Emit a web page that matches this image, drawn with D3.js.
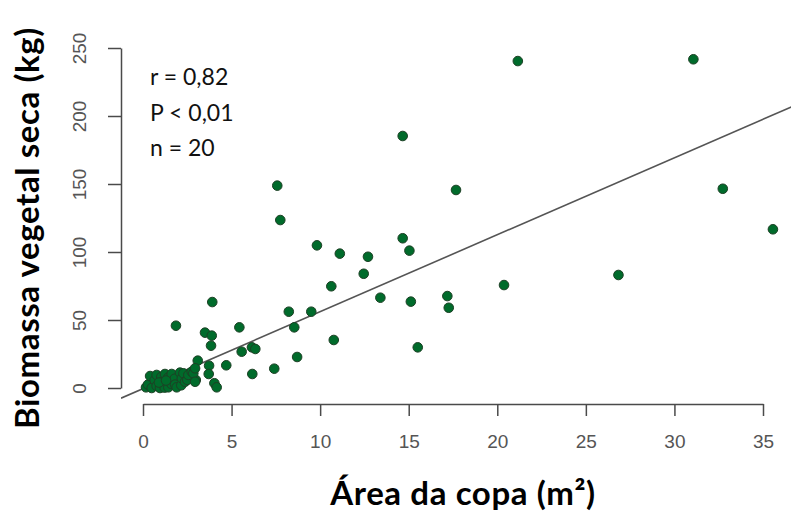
<!DOCTYPE html>
<html>
<head>
<meta charset="utf-8">
<script src="https://cdn.jsdelivr.net/npm/d3@7"></script>
<style>
  html, body { margin: 0; padding: 0; background: #fff; }
  svg { display: block; }
</style>
</head>
<body>
<svg id="chart" width="791" height="518"></svg>
<script>
// Crown area (m²) of each plant
const areaCopa = [
  21.16, 31.07, 14.66, 17.67, 32.73, 35.56, 14.66, 15.04, 26.84, 20.38,
  15.12, 17.18, 17.26, 15.51, 7.58, 7.75, 9.82, 11.11, 12.70, 12.46,
  10.63, 13.40, 3.91, 8.23, 9.50, 8.54, 5.44, 3.50, 3.88, 3.84,
  10.77, 5.57, 6.15, 6.34, 8.70, 7.41, 4.70, 3.09, 3.73, 6.17,
  3.71, 4.03, 4.16, 2.98, 1.86,
  0.17, 0.28, 0.40, 0.49, 0.66, 0.77, 0.77, 0.96, 1.03, 1.06,
  1.22, 1.24, 1.41, 1.43, 1.60, 1.62, 1.79, 1.81, 1.90, 2.09,
  2.16, 2.19, 2.28, 2.37, 2.50, 2.56, 2.75, 2.84, 2.94, 2.94,
  0.90, 1.30
];
// Dry plant biomass (kg) of each plant
const biomassa = [
  240.4, 241.7, 185.3, 145.6, 146.5, 116.7, 110.1, 101.0, 83.1, 75.7,
  63.5, 67.6, 59.0, 29.9, 148.8, 123.5, 104.9, 98.8, 96.5, 84.0,
  74.8, 66.4, 63.2, 56.1, 56.1, 44.6, 44.6, 40.7, 38.5, 31.1,
  35.3, 26.7, 29.9, 28.7, 22.8, 14.2, 16.7, 20.1, 16.4, 10.3,
  10.3, 3.5, 0.5, 5.9, 45.8,
  0.5, 2.5, 8.8, 0.0, 5.7, 1.5, 9.6, 0.0, 8.1, 4.5,
  0.3, 10.3, 7.5, 0.5, 3.0, 10.3, 6.8, 2.5, 0.5, 11.3,
  2.0, 7.1, 10.8, 4.6, 6.0, 9.6, 12.0, 10.8, 14.5, 4.6,
  4.0, 5.5
];

// Fitted line: biomassa = intercept + slope * area
const fitIntercept = -0.5;
const fitSlope = 5.66;

const xTicks = [0, 5, 10, 15, 20, 25, 30, 35];
const yTicks = [0, 50, 100, 150, 200, 250];

const statLines = ["r = 0,82", "P < 0,01", "n = 20"];
const xTitle = "Área da copa (m²)";
const yTitle = "Biomassa vegetal seca (kg)";

const svg = d3.select("#chart");

const x = d3.scaleLinear().domain([0, 35]).range([143, 763]);
const y = d3.scaleLinear().domain([0, 250]).range([388, 48]);

// plotting region (axes sit on its left and bottom edges)
const plotLeft = 121, plotRight = 800, plotTop = 46, plotBottom = 404;

svg.append("defs").append("clipPath").attr("id", "plotClip")
  .append("rect")
  .attr("x", plotLeft).attr("y", plotTop)
  .attr("width", plotRight - plotLeft).attr("height", plotBottom - plotTop);

const axisColor = "#4a4a4a";
const tickFont = "'Liberation Sans', Arial, sans-serif";
const titleFont = "Lato, 'Open Sans', sans-serif";

// y axis
const yAxis = svg.append("g")
  .attr("transform", `translate(${plotLeft},0)`)
  .call(d3.axisLeft(y).tickValues(yTicks).tickSize(13).tickSizeOuter(0).tickFormat(d3.format("d")));
yAxis.select(".domain").attr("stroke", axisColor).attr("stroke-width", 1.5);
yAxis.selectAll(".tick line").attr("stroke", axisColor).attr("stroke-width", 1.5);
yAxis.selectAll(".tick text")
  .attr("transform", "rotate(-90)")
  .attr("x", 0).attr("y", -35).attr("dy", 0)
  .attr("text-anchor", "middle")
  .attr("fill", "#555")
  .style("font-family", tickFont).style("font-size", "19px");

// x axis
const xAxis = svg.append("g")
  .attr("transform", `translate(0,${plotBottom})`)
  .call(d3.axisBottom(x).tickValues(xTicks).tickSize(12).tickSizeOuter(0).tickFormat(d3.format("d")));
xAxis.select(".domain").attr("stroke", axisColor).attr("stroke-width", 1.5);
xAxis.selectAll(".tick line").attr("stroke", axisColor).attr("stroke-width", 1.5);
xAxis.selectAll(".tick text")
  .attr("y", 44).attr("dy", 0)
  .attr("fill", "#555")
  .style("font-family", tickFont).style("font-size", "19px");

// regression line across the plotting region
const xMin = x.invert(plotLeft), xMax = x.invert(plotRight);
svg.append("line")
  .attr("clip-path", "url(#plotClip)")
  .attr("x1", x(xMin)).attr("y1", y(fitIntercept + fitSlope * xMin))
  .attr("x2", x(xMax)).attr("y2", y(fitIntercept + fitSlope * xMax))
  .attr("stroke", "#555").attr("stroke-width", 1.6);

// points
const pts = areaCopa.map((a, i) => ({ a, b: biomassa[i] }));
svg.append("g").selectAll("circle")
  .data(pts)
  .join("circle")
  .attr("cx", d => x(d.a))
  .attr("cy", d => y(d.b))
  .attr("r", 4.8)
  .attr("fill", "#006b2b")
  .attr("stroke", "#1d4025")
  .attr("stroke-width", 1);

// statistics block
svg.append("g").selectAll("text")
  .data(statLines)
  .join("text")
  .attr("x", 150)
  .attr("y", (d, i) => 85 + i * 35.5)
  .attr("fill", "#111")
  .style("font-family", titleFont)
  .style("font-size", "23px")
  .text(d => d);

// axis titles
svg.append("text")
  .attr("x", 463).attr("y", 505)
  .attr("text-anchor", "middle")
  .attr("fill", "#000")
  .style("font-family", titleFont)
  .style("font-weight", 700)
  .style("font-size", "33px")
  .style("letter-spacing", "0.6px")
  .text(xTitle);

svg.append("text")
  .attr("transform", "translate(39,228) rotate(-90)")
  .attr("text-anchor", "middle")
  .attr("fill", "#000")
  .style("font-family", titleFont)
  .style("font-weight", 700)
  .style("font-size", "33px")
  .style("letter-spacing", "0.6px")
  .text(yTitle);
</script>
</body>
</html>
